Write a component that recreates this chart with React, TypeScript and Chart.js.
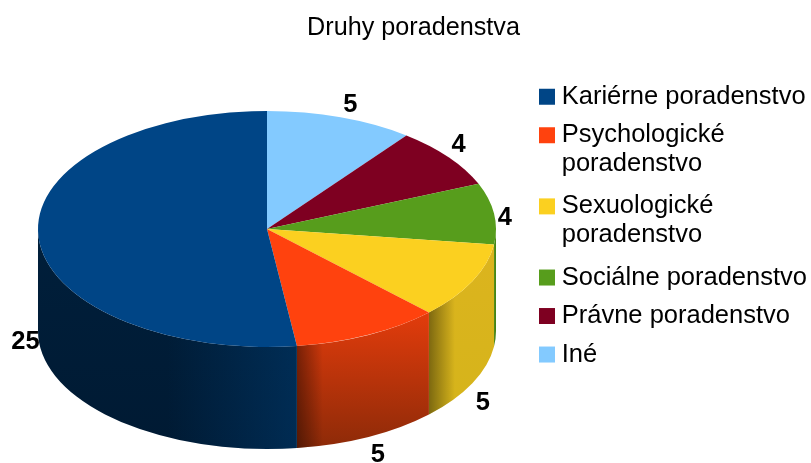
import React, { useEffect, useRef } from "react";
import { Chart, registerables } from "chart.js";

Chart.register(...registerables);

// Listed clockwise from twelve o'clock; the legend shows them in reverse.
const categories: (string | string[])[] = [
  "Iné",
  "Právne poradenstvo",
  "Sociálne poradenstvo",
  ["Sexuologické", "poradenstvo"],
  ["Psychologické", "poradenstvo"],
  "Kariérne poradenstvo",
];
const values = [5, 4, 4, 5, 5, 25];
const colors = ["#83caff", "#7e0021", "#579d1c", "#fbd020", "#ff420e", "#004586"];
const wallTop = ["#5a8cb0", "#560016", "#4a8a16", "#dcb41e", "#e33c0c", "#001f3b"];
const wallBottom = ["#5a8cb0", "#560016", "#3d7a14", "#d4b41a", "#8c2a08", "#001a33"];
const wallEdgeDark = [0, 0, 0, 0.42, 0.42, 0];
const wallSheen = [0, 0, 0, 0, 0, 0.32];
const labelNudgeX = [5, -2, -4, -3, 3, 2];
const labelNudgeY = [4, -2, 7, 12, 3, 2];

const FONT = "'Liberation Sans', Arial, sans-serif";
const ASPECT = 229 / 118;
const DEPTH = 102;
const LABEL_RX = 244;
const LABEL_RY = 135;
const LEGEND_LEFT = 532;
const LEGEND_TOP = 71;
const TITLE_CENTER = 413.5;

const pie3d = {
  id: "pie3d",
  afterLayout(chart: any) {
    if (chart.legend) {
      chart.legend.left = LEGEND_LEFT;
      chart.legend.top = LEGEND_TOP;
      chart.legend.bottom = 463;
    }
    if (chart.titleBlock) {
      chart.titleBlock.left = 2 * TITLE_CENTER - chart.titleBlock.right;
    }
  },
  beforeDatasetsDraw(chart: any) {
    const { ctx } = chart;
    const arcs = chart.getDatasetMeta(0).data;
    arcs.forEach((arc: any, i: number) => {
      const r = arc.outerRadius;
      const rx = r * ASPECT;
      const lo = Math.max(arc.startAngle, 0);
      const hi = Math.min(arc.endAngle, Math.PI);
      if (lo >= hi) return;
      const path = () => {
        ctx.beginPath();
        ctx.ellipse(arc.x, arc.y, rx, r, 0, lo, hi);
        ctx.ellipse(arc.x, arc.y + DEPTH, rx, r, 0, hi, lo, true);
        ctx.closePath();
      };
      const xStart = arc.x + rx * Math.cos(lo);
      const xEnd = arc.x + rx * Math.cos(hi);
      const yTop = arc.y + r * Math.sin(Math.min(lo, Math.PI - hi));
      ctx.save();
      const v = ctx.createLinearGradient(0, yTop, 0, arc.y + r + DEPTH);
      v.addColorStop(0, wallTop[i]);
      v.addColorStop(1, wallBottom[i]);
      ctx.fillStyle = v;
      path();
      ctx.fill();
      if (wallEdgeDark[i] > 0) {
        const h = ctx.createLinearGradient(xEnd, 0, xEnd + 26, 0);
        h.addColorStop(0, `rgba(0,0,0,${wallEdgeDark[i]})`);
        h.addColorStop(1, "rgba(0,0,0,0)");
        ctx.fillStyle = h;
        path();
        ctx.fill();
      }
      if (wallSheen[i] > 0) {
        const h = ctx.createLinearGradient(xStart - 130, 0, xStart, 0);
        h.addColorStop(0, "rgba(0,80,150,0)");
        h.addColorStop(1, `rgba(0,80,150,${wallSheen[i]})`);
        ctx.fillStyle = h;
        path();
        ctx.fill();
      }
      ctx.restore();
    });
    const first = arcs[0];
    ctx.save();
    ctx.translate(first.x, first.y);
    ctx.scale(ASPECT, 1);
    ctx.translate(-first.x, -first.y);
  },
  afterDatasetsDraw(chart: any) {
    const { ctx } = chart;
    ctx.restore();
    const arcs = chart.getDatasetMeta(0).data;
    ctx.save();
    ctx.font = `bold 25.5px ${FONT}`;
    ctx.fillStyle = "#000";
    ctx.textAlign = "center";
    ctx.textBaseline = "middle";
    arcs.forEach((arc: any, i: number) => {
      const mid = (arc.startAngle + arc.endAngle) / 2;
      const c = Math.cos(mid);
      const s = Math.sin(mid);
      const x = arc.x + LABEL_RX * c + labelNudgeX[i];
      const y = arc.y + LABEL_RY * s + (s > 0 ? DEPTH : 0) + labelNudgeY[i];
      ctx.fillText(String(values[i]), x, y);
    });
    ctx.restore();
  },
};

export default function App() {
  const ref = useRef<HTMLCanvasElement>(null);
  useEffect(() => {
    const chart = new Chart(ref.current!, {
      type: "pie",
      data: {
        labels: categories as any,
        datasets: [
          {
            data: values,
            backgroundColor: colors,
            borderWidth: 0,
          },
        ],
      },
      options: {
        responsive: false,
        animation: false,
        layout: { padding: { left: 8, right: 0, top: 0, bottom: 116 } },
        plugins: {
          tooltip: { enabled: false },
          title: {
            display: true,
            text: "Druhy poradenstva",
            color: "#000",
            font: { family: FONT, size: 25.2, weight: "normal", lineHeight: 1.2 },
            padding: { top: 13, bottom: 67.76 },
          },
          legend: {
            display: true,
            position: "right",
            align: "start",
            reverse: true,
            labels: {
              color: "#000",
              font: { family: FONT, size: 25.5, lineHeight: 1.14 },
              usePointStyle: true,
              pointStyle: "rect",
              boxWidth: 4,
              boxHeight: 16,
              padding: 13,
            },
          },
        },
      } as any,
      plugins: [pie3d],
    });
    return () => chart.destroy();
  }, []);
  return (
    <div style={{ position: "fixed", left: 0, top: 0, width: 811, height: 463, background: "#fff" }}>
      <canvas ref={ref} width={811} height={463} style={{ display: "block" }} />
    </div>
  );
}
